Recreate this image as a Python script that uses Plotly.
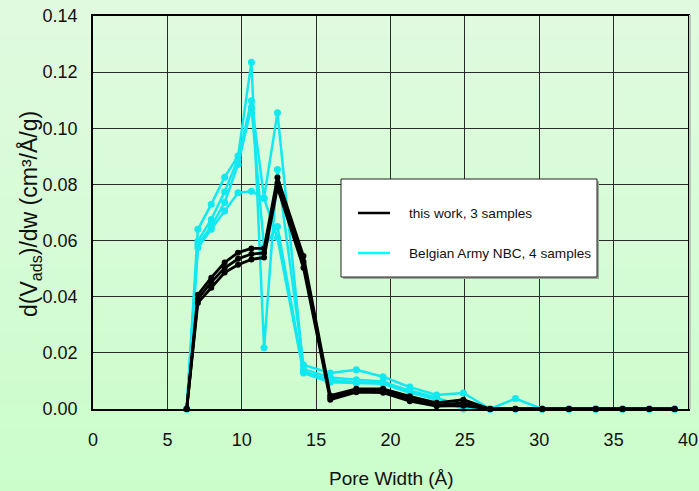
import plotly.graph_objects as go

# ---- data ----
pore_width = [6.3, 7.05, 7.95, 8.85, 9.75, 10.65, 11.5, 12.4, 14.15, 15.95, 17.7, 19.5,
              21.3, 23.1, 24.9, 26.7, 28.4, 30.2, 32.0, 33.8, 35.6, 37.4, 39.1]

this_work_1 = [0, 0.0407, 0.0468, 0.0522, 0.0557, 0.0572, 0.0572, 0.0825, 0.0545, 0.0048, 0.0072, 0.0072,
               0.0045, 0.0022, 0.0033, 0, 0, 0, 0, 0, 0, 0, 0]
this_work_2 = [0, 0.0392, 0.0452, 0.0502, 0.0535, 0.0552, 0.0556, 0.0805, 0.0525, 0.0040, 0.0066, 0.0067,
               0.0036, 0.0014, 0.0022, 0, 0, 0, 0, 0, 0, 0, 0]
this_work_3 = [0, 0.0378, 0.0432, 0.0486, 0.0514, 0.0533, 0.0540, 0.0790, 0.0503, 0.0033, 0.0060, 0.0058,
               0.0028, 0.0010, 0.0012, 0, 0, 0, 0, 0, 0, 0, 0]

belgian_1 = [0, 0.0640, 0.0729, 0.0826, 0.0901, 0.1235, 0.0218, 0.0853, 0.0157, 0.0128, 0.0140, 0.0115,
             0.0078, 0.0050, 0.0057, 0, 0.0037, 0, 0, 0, 0, 0, 0]
belgian_2 = [0, 0.0598, 0.0675, 0.0774, 0.0890, 0.1098, 0.0752, 0.1055, 0.0142, 0.0112, 0.0104, 0.0098,
             0.0062, 0.0032, 0.0016, 0, 0, 0, 0, 0, 0, 0, 0]
belgian_3 = [0, 0.0585, 0.0650, 0.0736, 0.0871, 0.1075, 0.0577, 0.0650, 0.0133, 0.0103, 0.0095, 0.0093,
             0.0066, 0.0040, 0.0010, 0, 0, 0, 0, 0, 0, 0, 0]
belgian_4 = [0, 0.0574, 0.0640, 0.0705, 0.0770, 0.0776, 0.0750, 0.0610, 0.0128, 0.0095, 0.0092, 0.0090,
             0.0058, 0.0036, 0.0000, 0, 0, 0, 0, 0, 0, 0, 0]

x_ticks = [0, 5, 10, 15, 20, 25, 30, 35, 40]
y_ticks = [0.00, 0.02, 0.04, 0.06, 0.08, 0.10, 0.12, 0.14]

legend_labels = ["this work, 3 samples", "Belgian Army NBC, 4 samples"]

BLACK = "#000000"
CYAN = "#12e8f0"
FONT = "Liberation Sans, Arial, sans-serif"

fig = go.Figure()

for s in [belgian_1, belgian_2, belgian_3, belgian_4]:
    fig.add_trace(go.Scatter(x=pore_width, y=s, mode="lines+markers",
                             line=dict(color=CYAN, width=2.5),
                             marker=dict(color=CYAN, size=7),
                             cliponaxis=False, showlegend=False))
for s in [this_work_1, this_work_2, this_work_3]:
    fig.add_trace(go.Scatter(x=pore_width, y=s, mode="lines+markers",
                             line=dict(color=BLACK, width=2.8),
                             marker=dict(color=BLACK, size=6),
                             cliponaxis=False, showlegend=False))

W, H = 699, 491
L, R, T, B = 93, 688, 16, 409
pw, ph = R - L, B - T


def px_x(p):
    return (p - L) / pw


def px_y(p):
    return (B - p) / ph


shapes = []
# gradient background bands
n = 40
top_c = (0xe0, 0xfa, 0xe0)
bot_c = (0xcb, 0xfd, 0xcb)
for i in range(n):
    t = i / (n - 1)
    c = tuple(int(round(top_c[k] + (bot_c[k] - top_c[k]) * t)) for k in range(3))
    ya = H * i / n
    yb = H * (i + 1) / n
    shapes.append(dict(type="rect", xref="paper", yref="paper", layer="below",
                       x0=px_x(0), x1=px_x(W), y0=px_y(yb + 1), y1=px_y(ya),
                       fillcolor="rgb(%d,%d,%d)" % c, line=dict(width=0)))

# frame shadow
shapes.append(dict(type="line", xref="paper", yref="paper", x0=px_x(R + 2), x1=px_x(R + 2),
                   y0=px_y(B), y1=px_y(T - 1), line=dict(color="#b8c8b8", width=2)))

# legend box
lx0, lx1, ly0, ly1 = 341, 597, 179, 277
shapes.append(dict(type="rect", xref="paper", yref="paper",
                   x0=px_x(lx0 + 2), x1=px_x(lx1 + 2), y0=px_y(ly1 + 2), y1=px_y(ly0 + 2),
                   fillcolor="#9aa89a", line=dict(width=0)))
shapes.append(dict(type="rect", xref="paper", yref="paper",
                   x0=px_x(lx0), x1=px_x(lx1), y0=px_y(ly1), y1=px_y(ly0),
                   fillcolor="white", line=dict(color="#222", width=1)))
annotations = []
for label, col, yy in zip(legend_labels, [BLACK, "#00ffff"], [213, 253]):
    shapes.append(dict(type="line", xref="paper", yref="paper",
                       x0=px_x(358), x1=px_x(390), y0=px_y(yy), y1=px_y(yy),
                       line=dict(color=col, width=2.5)))
    annotations.append(dict(x=px_x(407), y=px_y(yy), xref="paper", yref="paper",
                            text=label, showarrow=False, xanchor="left", yanchor="middle",
                            font=dict(family=FONT, size=13.6, color="#111")))

annotations.append(dict(x=px_x(391), y=px_y(478), xref="paper", yref="paper",
                        text="Pore Width (Å)", showarrow=False, xanchor="center", yanchor="middle",
                        font=dict(family=FONT, size=19, color="#111")))
annotations.append(dict(x=px_x(30), y=px_y(214), xref="paper", yref="paper",
                        text="d(V<sub>ads</sub>)/dw (cm³/Å/g)", textangle=-90,
                        showarrow=False, xanchor="center", yanchor="middle",
                        font=dict(family=FONT, size=23, color="#111")))

fig.update_layout(
    width=W, height=H, autosize=False,
    margin=dict(l=L, r=W - R, t=T, b=H - B, pad=0, autoexpand=False),
    paper_bgcolor="#d4fbd4",
    plot_bgcolor="rgba(0,0,0,0)",
    shapes=shapes,
    annotations=annotations,
    showlegend=False,
    font=dict(family=FONT, color="#111"),
)
fig.update_xaxes(range=[0, 40], tickvals=x_ticks, ticktext=[str(v) for v in x_ticks],
                 automargin=False,
                 showgrid=True, gridcolor="#2a2a2a", gridwidth=1,
                 showline=True, linecolor="#000", linewidth=1.5, mirror=True,
                 ticks="outside", ticklen=14, tickcolor="rgba(0,0,0,0)",
                 tickfont=dict(family=FONT, size=18, color="#111"), zeroline=False)
fig.update_yaxes(range=[0, 0.14], tickvals=y_ticks, ticktext=["%.2f" % v for v in y_ticks],
                 automargin=False,
                 showgrid=True, gridcolor="#2a2a2a", gridwidth=1,
                 showline=True, linecolor="#000", linewidth=1.5, mirror=True,
                 ticks="outside", ticklen=10, tickcolor="rgba(0,0,0,0)",
                 tickfont=dict(family=FONT, size=18, color="#111"), zeroline=False)

fig.write_html("out.html")
